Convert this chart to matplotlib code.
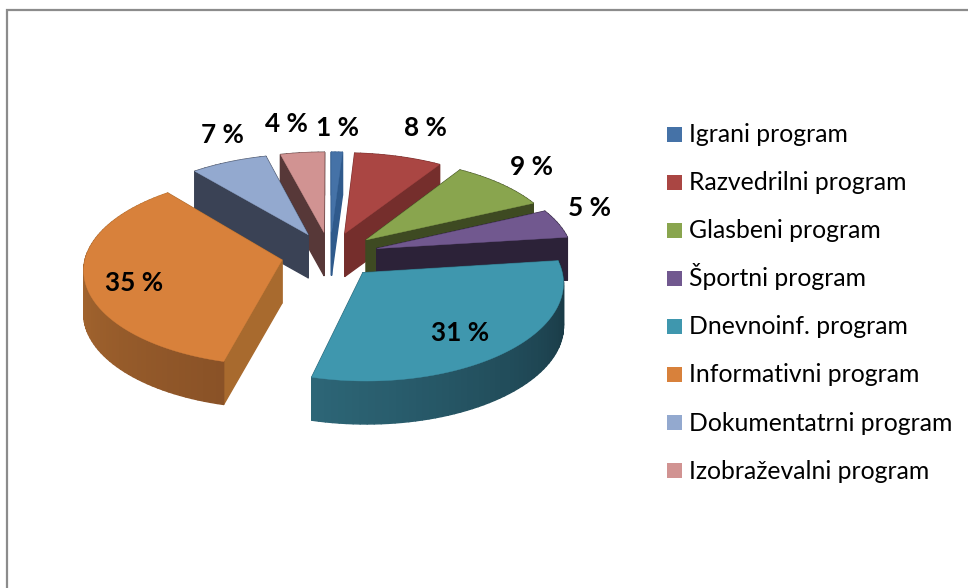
import numpy as np
import matplotlib
matplotlib.use("Agg")
import matplotlib.pyplot as plt
from matplotlib.patches import Rectangle
from matplotlib.colors import to_rgb

# Chart data
categories = [
    "Igrani program",
    "Razvedrilni program",
    "Glasbeni program",
    "Športni program",
    "Dnevnoinf. program",
    "Informativni program",
    "Dokumentatrni program",
    "Izobraževalni program",
]
values = [1, 8, 9, 5, 31, 35, 7, 4]

# Slice colours: top, radial wall, outer wall at both ends
top_colors = ["#4572a7", "#aa4643", "#89a54e", "#71588f", "#3f97ae", "#d8813b", "#93a9cf", "#d19392"]
side_colors = ["#2f5a8c", "#752e2c", "#3e4a22", "#2c2238", "#2a5f6f", "#a86a2e", "#3a4255", "#573838"]
wall_start = ["#2f5a8c", "#752e2c", "#3e4a22", "#2c2238", "#16333e", "#8a5227", "#3a4255", "#573838"]
wall_end = ["#2f5a8c", "#752e2c", "#3e4a22", "#2c2238", "#2d6677", "#b87434", "#3a4255", "#573838"]

label_x = [338, 425, 531, 589, 460, 134, 222, 286]
label_y = [128, 128, 167, 208, 333, 283, 135, 124]

# Projection of the tilted pie onto the picture
CX, CY = 330, 255
RX, RY = 196, 93
PERSP_X, PERSP_Y = 0.09, 0.104
EXPLODE = 0.25
DEPTH = 43


def project(x, y, z=0):
    return CX + RX * x / (1 + PERSP_X * y), CY - RY * y / (1 + PERSP_Y * y) + z


def mix(c1, c2, f):
    c1, c2 = np.array(to_rgb(c1)), np.array(to_rgb(c2))
    return tuple(c1 + (c2 - c1) * f)


plt.rcParams["font.family"] = ["Lato", "DejaVu Sans"]

fig = plt.figure(figsize=(9.68, 5.88), dpi=100)
ax = fig.add_axes([0, 0, 1, 1])
ax.set_xlim(0, 968)
ax.set_ylim(588, 0)
ax.axis("off")

# Frame of the chart area, cut by the page
ax.plot([6.5, 6.5, 968], [588, 10, 10], color="#8c8c8c", lw=1.6, solid_joinstyle="miter")

# Work out each slice from the values
edges = np.cumsum([0] + values) / sum(values) * 2 * np.pi
slices = []
for i in range(len(values)):
    t = np.linspace(edges[i], edges[i + 1], max(int(values[i] * 2), 4))
    mid = (edges[i] + edges[i + 1]) / 2
    ox, oy = EXPLODE * np.sin(mid), EXPLODE * np.cos(mid)
    xs = ox + np.sin(t)
    ys = oy + np.cos(t)
    slices.append((i, ox, oy, xs, ys))

# Paint the far slices first
slices.sort(key=lambda s: -(s[2] + s[4].mean()))

for i, ox, oy, xs, ys in slices:
    faces = []
    for x, y in [(xs[0], ys[0]), (xs[-1], ys[-1])]:
        faces.append(((oy + y) / 2, [(ox, oy), (x, y)], side_colors[i]))
    for k in range(len(xs) - 1):
        f = k / (len(xs) - 2)
        faces.append(((ys[k] + ys[k + 1]) / 2,
                      [(xs[k], ys[k]), (xs[k + 1], ys[k + 1])], mix(wall_start[i], wall_end[i], f)))
    faces.sort(key=lambda q: -q[0])
    for _, pts, col in faces:
        (x0, y0), (x1, y1) = pts
        px, py = zip(project(x0, y0), project(x1, y1), project(x1, y1, DEPTH), project(x0, y0, DEPTH))
        ax.fill(px, py, color=col, lw=1.0, joinstyle="round")
    tx, ty = project(np.r_[ox, xs], np.r_[oy, ys])
    ax.fill(tx, ty, color=top_colors[i], lw=0.3)

# Percentage labels
for i in range(len(values)):
    ax.text(label_x[i], label_y[i], f"{values[i]} %", ha="center", va="center",
            fontsize=18.8, fontweight="bold", color="black")

# Legend, evenly spaced rows
for i, name in enumerate(categories):
    row = 134 + 48.1 * i
    ax.add_patch(Rectangle((667, row - 7.5), 15, 15, facecolor=top_colors[i], edgecolor="none"))
    ax.text(689, row + 8, name, ha="left", va="baseline", fontsize=17.8, color="black")

plt.savefig("out.png", dpi=100)
